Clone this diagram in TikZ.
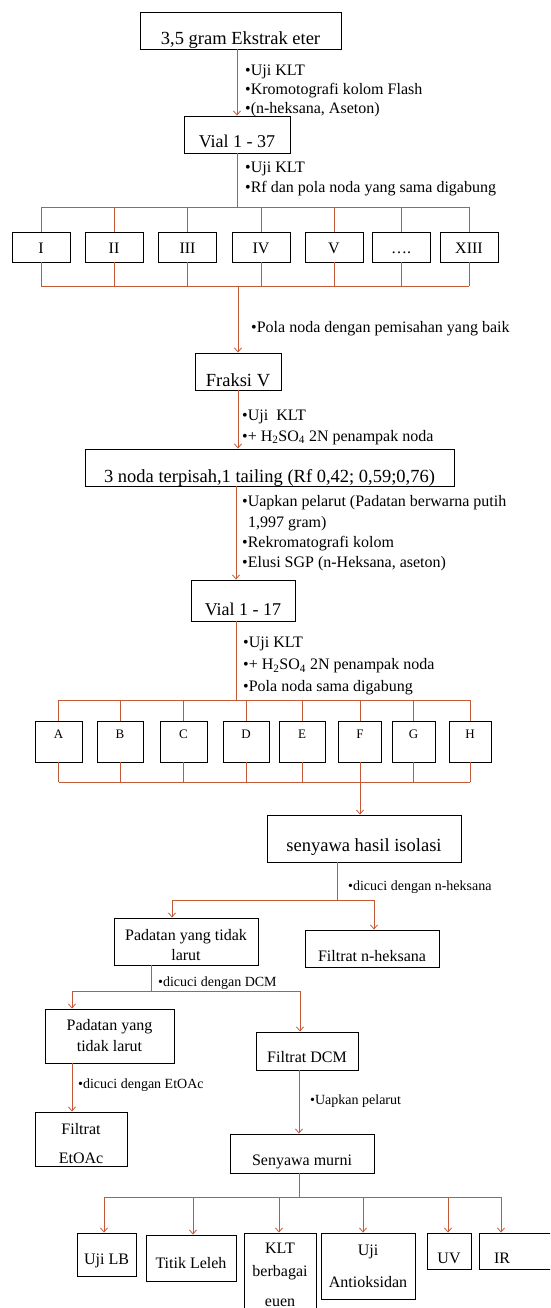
\documentclass[tikz,border=0pt]{standalone}
\usepackage{fontspec}
\setmainfont{Liberation Serif}
\usetikzlibrary{arrows.meta}
\definecolor{linkred}{RGB}{196,89,56}

\begin{document}
\begin{tikzpicture}[x=1pt,y=-1pt,
  box/.style={draw, line width=0.9pt, inner sep=0pt},
  big/.style={font=\fontsize{18.5}{22}\selectfont},
  mid/.style={font=\fontsize{16}{#1}\selectfont},
  mid/.default=19,
  small/.style={font=\fontsize{13}{15}\selectfont},
  note/.style={anchor=west, inner sep=0pt, align=left, font=\fontsize{16}{#1}\selectfont},
  note/.default=19,
  snote/.style={anchor=west, inner sep=0pt, font=\fontsize{14}{17}\selectfont},
  link/.style={draw=linkred, line width=0.8pt},
  arr/.style={link, -{Straight Barb[length=4pt,width=7pt]}}]
\useasboundingbox (0,0) rectangle (550,1308);
\clip (0,0) rectangle (550,1308);
\coordinate (spine) at (236,0);
\node[box, big, minimum width=201pt, text height=32.5pt, text depth=4.5pt] (eks) at (240.5,30.5) {3,5 gram Ekstrak eter};
\node[box, font=\fontsize{18}{22}\selectfont, minimum width=106pt, text height=32pt, text depth=5pt] (vial1) at (237,134.5) {Vial 1 - 37};
\node[note] (n1) at (245,91) {\textbullet Uji KLT\\\textbullet Kromotografi kolom Flash\\\textbullet (n-heksana, Aseton)};
\node[note=20] (n2) at (245,178.5) {\textbullet Uji KLT\\\textbullet Rf dan pola noda yang sama digabung};
\foreach \nm/\cx/\lb in {fI/41/I, fII/114/II, fIII/187.5/III, fIV/261/IV, fV/334/V, fX/401/{\dots.}, fXIII/469/XIII}
  \node[box, mid, minimum width=58pt, text height=21pt, text depth=9pt] (\nm) at (\cx,247) {\lb};
\node[note] (n3) at (251,329) {\textbullet Pola noda dengan pemisahan yang baik};
\node[box, big, minimum width=86pt, text height=33.5pt, text depth=3.5pt] (fraksi) at (238,371.5) {Fraksi V};
\node[note=21] (n4) at (242,427) {\textbullet Uji~ KLT\\\textbullet + H\textsubscript{2}SO\textsubscript{4} 2N penampak noda};
\node[box, big, minimum width=369pt, text height=33pt, text depth=4pt] (noda) at (269.5,467.5) {3 noda terpisah,1 tailing (Rf 0,42; 0,59;0,76)};
\node[note=20.3] (n5) at (242,533.5) {\textbullet Uapkan pelarut (Padatan berwarna putih\\\hspace*{6pt}1,997 gram)\\\textbullet Rekromatografi kolom\\\textbullet Elusi SGP (n-Heksana, aseton)};
\node[box, font=\fontsize{18}{22}\selectfont, minimum width=104pt, text height=35pt, text depth=6pt] (vial2) at (243,600.5) {Vial 1 - 17};
\node[note=22] (n6) at (243,666) {\textbullet Uji KLT\\\textbullet + H\textsubscript{2}SO\textsubscript{4} 2N penampak noda\\\textbullet Pola noda sama digabung};
\foreach \nm/\cx/\w in {A/58.5/47, B/120/46, C/183.5/47, D/246/46, E/302/46, F/360/43, G/413.5/43, H/470/42}
  \node[box, small, minimum width=\w pt, text height=17pt, text depth=24pt] (b\nm) at (\cx,741.5) {\nm};
\node[box, big, minimum width=194pt, text height=36pt, text depth=11pt] (senyawa) at (364,838.5) {senyawa hasil isolasi};
\node[snote] (n7) at (348,887) {\textbullet dicuci dengan n-heksana};
\node[box, minimum width=144pt, minimum height=47pt] (padatan1) at (186,941.5) {};
\node[mid=20, align=center, inner sep=0pt] (padatan1t) at (186,945.5) {Padatan yang tidak\\larut};
\node[box, mid, minimum width=134pt, text height=31pt, text depth=6pt] (nhex) at (372,948.5) {Filtrat n-heksana};
\node[snote] (n8) at (158,983) {\textbullet dicuci dengan DCM};
\node[box, minimum width=129pt, minimum height=54pt] (padatan2) at (109.5,1036) {};
\node[mid=21, align=center, inner sep=0pt] (padatan2t) at (109.5,1036) {Padatan yang\\tidak larut};
\node[box, mid, minimum width=102pt, text height=30pt, text depth=8pt] (dcm) at (307,1051) {Filtrat DCM};
\node[snote] (n9) at (78,1085) {\textbullet dicuci dengan EtOAc};
\node[snote] (n10) at (310,1101) {\textbullet Uapkan pelarut};
\node[box, minimum width=92pt, minimum height=54pt] (etoac) at (81,1139) {};
\node[mid=29, align=center, inner sep=0pt] (etoact) at (81,1144) {Filtrat\\EtOAc};
\node[box, mid, minimum width=144pt, text height=31pt, text depth=8pt] (murni) at (302,1153.5) {Senyawa murni};
\node[box, mid, minimum width=59pt, text height=31pt, text depth=12pt] (ujilb) at (106.5,1254.5) {Uji LB};
\node[box, mid, minimum width=90pt, text height=33pt, text depth=13pt] (titik) at (191,1258) {Titik Leleh};
\node[box, minimum width=72pt, minimum height=94pt] (klt) at (280,1280) {};
\node[mid=23, align=center, inner sep=0pt] (kltt) at (280,1275) {KLT\\berbagai\\[7pt]euen};
\node[box, minimum width=94pt, minimum height=66pt] (antiok) at (368,1266) {};
\node[mid=32, align=center, inner sep=0pt] (antiokt) at (368,1266) {Uji\\Antioksidan};
\node[box, mid, minimum width=44pt, text height=30pt, text depth=6pt] (uv) at (449,1251) {UV};
\node[box, minimum width=91pt, minimum height=36pt] (ir) at (524.5,1251) {};
\node[mid, anchor=base, inner sep=0pt] (irt) at (502,1263) {IR};
\draw[arr] (eks.south -| vial1) -- (vial1.north);
\coordinate (top1) at (237,207);
\coordinate (bot1) at (238,286);
\draw[link] (vial1.south) -- (top1);
\draw[link] (fI.north |- top1) -- (fXIII.north |- top1);
\draw[link] (fI.south |- bot1) -- (fXIII.south |- bot1);
\foreach \nm in {fI,fII,fIII,fIV,fV,fX,fXIII} {
  \draw[link] (\nm.north |- top1) -- (\nm.north);
  \draw[link] (\nm.south) -- (\nm.south |- bot1);
}
\draw[arr] (bot1) -- (bot1 |- fraksi.north);
\draw[arr] (fraksi.south) -- (fraksi.south |- noda.north);
\draw[arr] (noda.south -| spine) -- (vial2.north -| spine);
\coordinate (top2) at (236,700);
\coordinate (bot2) at (360,782);
\draw[link] (vial2.south -| spine) -- (top2);
\draw[link] (bA.north |- top2) -- (bH.north |- top2);
\draw[link] (bA.south |- bot2) -- (bH.south |- bot2);
\foreach \nm in {A,B,C,D,E,F,G,H} {
  \draw[link] (b\nm.north |- top2) -- (b\nm.north);
  \draw[link] (b\nm.south) -- (b\nm.south |- bot2);
}
\draw[arr] (bot2) -- (bot2 |- senyawa.north);
\coordinate (s1) at (337,900);
\coordinate (s1l) at (172,900);
\coordinate (s1r) at (374,900);
\draw[link] (s1 |- senyawa.south) -- (s1);
\draw[link] (s1l) -- (s1r);
\draw[arr] (s1l) -- (s1l |- padatan1.north);
\draw[arr] (s1r) -- (s1r |- nhex.north);
\coordinate (s2) at (151,991);
\coordinate (s2l) at (72,991);
\coordinate (s2r) at (300,991);
\draw[link] (s2 |- padatan1.south) -- (s2);
\draw[link] (s2l) -- (s2r);
\draw[arr] (s2l) -- (s2l |- padatan2.north);
\draw[arr] (s2r) -- (s2r |- dcm.north);
\draw[arr] (s2l |- padatan2.south) -- (s2l |- etoac.north);
\coordinate (s3) at (299,1197);
\draw[arr] (s3 |- dcm.south) -- (s3 |- murni.north);
\draw[link] (s3 |- murni.south) -- (s3);
\foreach \nm/\x in {ujilb/104, titik/193, klt/279, antiok/363, uv/448, ir/501} {
  \coordinate (t\nm) at (\x,1197);
  \draw[arr] (t\nm) -- (t\nm |- \nm.north);
}
\draw[link] (tujilb) -- (tir);
\end{tikzpicture}
\end{document}
